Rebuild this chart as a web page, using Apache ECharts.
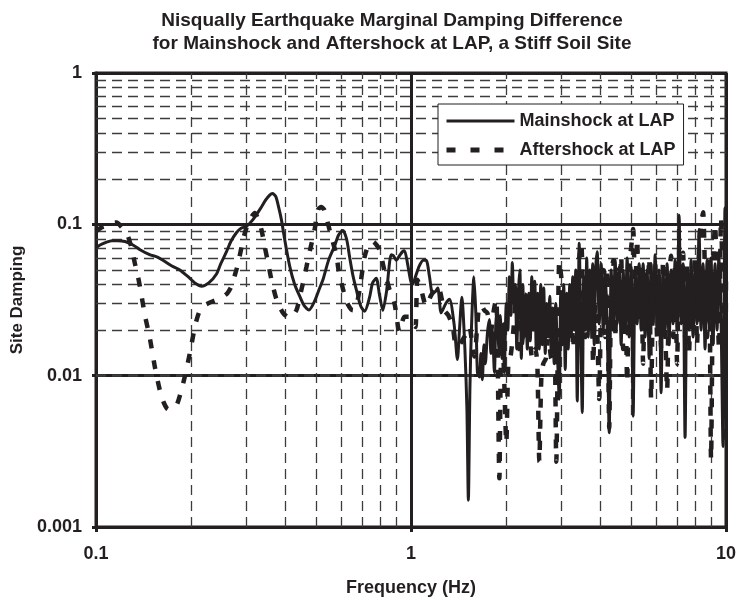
<!DOCTYPE html>
<html>
<head>
<meta charset="utf-8">
<script src="https://cdn.jsdelivr.net/npm/echarts@6/dist/echarts.min.js"></script>
<style>
  html, body { margin: 0; padding: 0; background: #ffffff; }
  #chart { width: 739px; height: 605px; }
</style>
</head>
<body>
<div id="chart"></div>
<script>
// Marginal site damping vs. frequency, Nisqually records at LAP
const titleLines = [
  'Nisqually Earthquake Marginal Damping Difference',
  'for Mainshock and Aftershock at LAP, a Stiff Soil Site'
];
const seriesNames = ['Mainshock at LAP', 'Aftershock at LAP'];
const xAxisTitle = 'Frequency (Hz)';
const yAxisTitle = 'Site Damping';

// Mainshock (Hz, damping)
const mainFreq = [
  0.1, 0.103, 0.1076, 0.1124, 0.117, 0.1236, 0.131, 0.138, 0.148, 0.156,
  0.165, 0.1742, 0.1846, 0.1986, 0.206, 0.2163, 0.228, 0.2413, 0.249, 0.2596,
  0.268, 0.279, 0.288, 0.3004, 0.3145, 0.331, 0.3458, 0.356, 0.363, 0.372,
  0.38, 0.3879, 0.397, 0.412, 0.4273, 0.4432, 0.458, 0.4743, 0.494, 0.513,
  0.5253, 0.5475, 0.5721, 0.589, 0.6078, 0.6245, 0.6383, 0.654, 0.6705, 0.6918,
  0.7124, 0.7388, 0.755, 0.7757, 0.7946, 0.8139, 0.8363, 0.8655, 0.88, 0.8975,
  0.9196, 0.9398, 0.9536, 0.975, 0.996, 1.011, 1.033, 1.062, 1.094, 1.117,
  1.145, 1.17, 1.196, 1.216, 1.247, 1.29, 1.325, 1.37, 1.404, 1.425,
  1.45, 1.483, 1.505, 1.521, 1.538, 1.555, 1.584, 1.607, 1.625,
  1.649, 1.667, 1.685, 1.704, 1.722, 1.748, 1.774, 1.793, 1.813, 1.84,
  1.859, 1.88, 1.9, 1.921, 1.942, 1.964, 1.978, 2.007, 2.03, 2.052,
  2.075, 2.098, 2.12, 2.144, 2.167, 2.192, 2.216, 2.24, 2.265, 2.289,
  2.315, 2.34, 2.366, 2.392, 2.418, 2.445, 2.472, 2.499, 2.526, 2.554,
  2.582, 2.611, 2.639, 2.668, 2.698, 2.728, 2.758, 2.788, 2.819, 2.85,
  2.881, 2.913, 2.956, 2.988, 3.021, 3.054, 3.088, 3.122, 3.156, 3.191,
  3.226, 3.262, 3.298, 3.334, 3.371, 3.421, 3.458, 3.497, 3.535, 3.574,
  3.613, 3.653, 3.693, 3.734, 3.775, 3.816, 3.858, 3.9, 3.958,
  4.016, 4.075, 4.135, 4.196, 4.258, 4.32, 4.384, 4.448,
  4.514, 4.58, 4.647, 4.716, 4.785, 4.855, 4.927, 4.999, 5.073, 5.147,
  5.223, 5.3, 5.378, 5.457, 5.537, 5.619, 5.702, 5.785, 5.87, 5.957,
  6.044, 6.133, 6.223, 6.315, 6.408, 6.502, 6.598, 6.695, 6.793, 6.893,
  6.995, 7.097, 7.202, 7.308, 7.415, 7.524, 7.635, 7.747, 7.861, 7.977,
  8.094, 8.213, 8.334, 8.457, 8.581, 8.707, 8.835, 8.965, 9.097, 9.231,
  9.367, 9.502, 9.642, 9.784, 9.928, 10
];
const mainDamping = [
  0.07, 0.073, 0.076, 0.078, 0.078, 0.077, 0.073, 0.068, 0.063, 0.061,
  0.057, 0.053, 0.05, 0.044, 0.041, 0.039, 0.041, 0.047, 0.055, 0.066,
  0.077, 0.088, 0.094, 0.097, 0.107, 0.125, 0.145, 0.156, 0.16, 0.153,
  0.13, 0.107, 0.08, 0.053, 0.04, 0.0335, 0.029, 0.0272, 0.031, 0.038,
  0.043, 0.058, 0.072, 0.085, 0.091, 0.08, 0.061, 0.046, 0.037, 0.029,
  0.0266, 0.033, 0.041, 0.044, 0.034, 0.027, 0.036, 0.063, 0.062, 0.058,
  0.062, 0.066, 0.067, 0.055, 0.043, 0.04, 0.045, 0.053, 0.058, 0.058,
  0.045, 0.035, 0.036, 0.038, 0.026, 0.03, 0.032, 0.022, 0.0128, 0.02,
  0.033, 0.015, 0.006, 0.0015, 0.008, 0.02, 0.045, 0.025, 0.0105,
  0.0098, 0.014, 0.0094, 0.016, 0.012, 0.019, 0.0235, 0.014, 0.02, 0.0105,
  0.022, 0.027, 0.015, 0.025, 0.013, 0.022, 0.0105, 0.03, 0.02, 0.045,
  0.025, 0.056, 0.03, 0.04, 0.015, 0.035, 0.05, 0.013, 0.04, 0.018,
  0.032, 0.015, 0.035, 0.017, 0.045, 0.02, 0.042, 0.014, 0.035, 0.015,
  0.04, 0.016, 0.038, 0.014, 0.03, 0.018, 0.0335, 0.014, 0.028, 0.012,
  0.03, 0.015, 0.007, 0.035, 0.016, 0.04, 0.011, 0.035, 0.015, 0.04,
  0.018, 0.045, 0.02, 0.05, 0.0068, 0.075, 0.02, 0.0057, 0.045, 0.02,
  0.06, 0.018, 0.05, 0.02, 0.055, 0.016, 0.05, 0.066, 0.022,
  0.055, 0.02, 0.05, 0.022, 0.0042, 0.05, 0.02, 0.058,
  0.022, 0.052, 0.016, 0.05, 0.02, 0.06, 0.018, 0.052, 0.0054, 0.05,
  0.022, 0.055, 0.02, 0.055, 0.018, 0.05, 0.013, 0.055, 0.022, 0.063,
  0.02, 0.05, 0.0077, 0.05, 0.02, 0.055, 0.016, 0.05, 0.022, 0.058,
  0.02, 0.115, 0.022, 0.055, 0.0039, 0.05, 0.02, 0.058, 0.018, 0.052,
  0.022, 0.092, 0.02, 0.055, 0.015, 0.058, 0.022, 0.06, 0.016, 0.055,
  0.02, 0.065, 0.025, 0.0034, 0.128, 0.04
];

// Aftershock (Hz, damping)
const afterFreq = [
  0.1, 0.1037, 0.1081, 0.1116, 0.1163, 0.12, 0.125, 0.1297, 0.1329, 0.136,
  0.1394, 0.143, 0.148, 0.1538, 0.1595, 0.1643, 0.1695, 0.1747, 0.1803, 0.186,
  0.1915, 0.1986, 0.206, 0.2121, 0.2187, 0.2265, 0.2349, 0.2436, 0.2532, 0.2611,
  0.2692, 0.2758, 0.2825, 0.293, 0.3004, 0.3077, 0.3192, 0.3263, 0.3352, 0.3434,
  0.3523, 0.3606, 0.374, 0.3925, 0.412, 0.4326, 0.4432, 0.454, 0.4654, 0.4768,
  0.4944, 0.5066, 0.5193, 0.53, 0.541, 0.5586, 0.5794, 0.589, 0.6155, 0.6337,
  0.654, 0.6705, 0.6867, 0.7124, 0.7334, 0.7568, 0.7774, 0.7946, 0.8241, 0.855,
  0.8866, 0.9196, 0.9536, 0.989, 1.011, 1.033, 1.048, 1.077, 1.117, 1.159,
  1.216, 1.277, 1.315, 1.357, 1.391, 1.425, 1.46, 1.499, 1.532, 1.566,
  1.59, 1.625, 1.649, 1.673, 1.71, 1.747, 1.796, 1.826, 1.862, 1.88,
  1.908, 1.936, 1.965, 2.007, 2.037, 2.067, 2.114, 2.155, 2.192, 2.224,
  2.256, 2.289, 2.323, 2.349, 2.375, 2.428, 2.481, 2.518, 2.555, 2.592,
  2.63, 2.682, 2.728, 2.788, 2.85, 2.892, 2.956, 2.999, 3.043, 3.088,
  3.133, 3.18, 3.226, 3.274, 3.322, 3.37, 3.421, 3.471, 3.522, 3.574,
  3.626, 3.68, 3.734, 3.788, 3.844, 3.9, 3.958, 4.016, 4.075, 4.135,
  4.196, 4.258, 4.32, 4.384, 4.448, 4.514, 4.58, 4.647, 4.716, 4.785,
  4.855, 4.927, 4.999, 5.073, 5.147, 5.223, 5.3, 5.378, 5.457, 5.537,
  5.619, 5.702, 5.785, 5.87, 5.957, 6.044, 6.133, 6.223, 6.315, 6.408,
  6.502, 6.598, 6.695, 6.793, 6.893, 6.995, 7.097, 7.202, 7.308, 7.415,
  7.524, 7.635, 7.747, 7.861, 7.977, 8.094, 8.213, 8.334, 8.457, 8.581,
  8.707, 8.835, 8.965, 9.097, 9.231, 9.367, 9.502, 9.642, 9.784, 9.928, 10
];
const afterDamping = [
  0.09, 0.095, 0.098, 0.102, 0.103, 0.097, 0.088, 0.07, 0.055, 0.045,
  0.034, 0.025, 0.018, 0.0114, 0.008, 0.0066, 0.006, 0.0061, 0.0064, 0.0078,
  0.0099, 0.0141, 0.021, 0.026, 0.0288, 0.03, 0.031, 0.032, 0.0334, 0.035,
  0.039, 0.046, 0.055, 0.079, 0.095, 0.107, 0.119, 0.11, 0.092, 0.071,
  0.055, 0.043, 0.032, 0.026, 0.024, 0.027, 0.033, 0.041, 0.052, 0.066,
  0.092, 0.125, 0.13, 0.125, 0.107, 0.083, 0.063, 0.05, 0.034, 0.029,
  0.027, 0.029, 0.037, 0.061, 0.073, 0.077, 0.073, 0.068, 0.049, 0.037,
  0.03, 0.0195, 0.0245, 0.0245, 0.022, 0.021, 0.043, 0.037, 0.029, 0.034,
  0.039, 0.027, 0.025, 0.021, 0.0156, 0.016, 0.0173, 0.019, 0.021, 0.016,
  0.0134, 0.022, 0.029, 0.029, 0.027, 0.026, 0.02, 0.026, 0.032, 0.02,
  0.0021, 0.015, 0.013, 0.0036, 0.012, 0.013, 0.02, 0.0335, 0.025, 0.014,
  0.017, 0.025, 0.034, 0.035, 0.02, 0.013, 0.015, 0.012, 0.0027, 0.0095,
  0.012, 0.013, 0.018, 0.013, 0.02, 0.0027, 0.057, 0.045, 0.028, 0.035,
  0.027, 0.02, 0.03, 0.015, 0.04, 0.025, 0.06, 0.075, 0.03, 0.018,
  0.04, 0.025, 0.035, 0.012, 0.03, 0.02, 0.007, 0.035, 0.05, 0.018,
  0.05, 0.0045, 0.04, 0.058, 0.018, 0.05, 0.022, 0.062, 0.015, 0.045,
  0.009, 0.055, 0.07, 0.093, 0.035, 0.08, 0.022, 0.055, 0.012, 0.05,
  0.025, 0.06, 0.007, 0.04, 0.055, 0.018, 0.05, 0.015, 0.058, 0.022,
  0.008, 0.045, 0.062, 0.018, 0.055, 0.012, 0.05, 0.025, 0.065, 0.018,
  0.055, 0.014, 0.05, 0.022, 0.062, 0.016, 0.07, 0.1, 0.12, 0.045,
  0.018, 0.06, 0.0028, 0.05, 0.1, 0.035, 0.015, 0.11, 0.03, 0.0035, 0.05
];

// Axis ticks and labels
const xTicks = [0.1, 1, 10];
const xTickLabels = ['0.1', '1', '10'];
const yTicks = [0.001, 0.01, 0.1, 1];
const yTickLabels = ['0.001', '0.01', '0.1', '1'];
// Minor (dashed) grid positions
const xMinor = [0.2, 0.3, 0.4, 0.5, 0.6, 0.7, 0.8, 0.9, 2, 3, 4, 5, 6, 7, 8, 9];
const yMinor = [0.002, 0.003, 0.004, 0.005, 0.006, 0.007, 0.008, 0.009,
                0.02, 0.03, 0.04, 0.05, 0.06, 0.07, 0.08, 0.09,
                0.2, 0.3, 0.4, 0.5, 0.6, 0.7, 0.8, 0.9];

const INK = '#231f20';
const FONT = '"Liberation Sans", Arial, Helvetica, sans-serif';
const FS = 18;

function tickLabel(ticks, labels) {
  return function (v) {
    const i = ticks.findIndex(t => Math.abs(Math.log10(t) - Math.log10(v)) < 1e-6);
    return i >= 0 ? labels[i] : '';
  };
}

const zip = (xs, ys) => xs.map((x, i) => [x, ys[i]]);

const mainLine = { color: INK, width: 3, type: 'solid' };
const afterLine = { color: INK, width: 4.5, type: [9, 12], cap: 'butt' };

const chart = echarts.init(document.getElementById('chart'), null, { renderer: 'canvas' });

chart.setOption({
  animation: false,
  backgroundColor: '#ffffff',
  graphic: [
    { type: 'text', x: 392, y: 21, style: { text: titleLines[0], textAlign: 'center', textVerticalAlign: 'middle', fill: INK, font: 'bold 19px ' + FONT } },
    { type: 'text', x: 392, y: 44, style: { text: titleLines[1], textAlign: 'center', textVerticalAlign: 'middle', fill: INK, font: 'bold 19px ' + FONT } }
  ],
  grid: {
    left: 96, right: 12, top: 73, bottom: 78,
    show: true, borderColor: INK, borderWidth: 3, backgroundColor: 'transparent'
  },
  legend: {
    left: 438, top: 104,
    orient: 'vertical',
    backgroundColor: '#ffffff',
    borderColor: INK, borderWidth: 1, borderRadius: 0,
    padding: [8, 8, 6, 6],
    itemWidth: 68, itemHeight: 14, itemGap: 11, itemTextGap: 4,
    itemStyle: { opacity: 0 },
    textStyle: { fontFamily: FONT, fontWeight: 'bold', fontSize: FS, color: INK },
    data: [
      { name: seriesNames[0], lineStyle: { color: INK, width: 3, type: 'solid' } },
      { name: seriesNames[1], lineStyle: { color: INK, width: 5, type: [9, 15], cap: 'butt' } }
    ]
  },
  xAxis: {
    type: 'log', logBase: 10, min: 0.1, max: 10,
    name: xAxisTitle, nameLocation: 'middle', nameGap: 52,
    nameTextStyle: { fontFamily: FONT, fontWeight: 'bold', fontSize: FS, color: INK },
    axisLine: { show: true, lineStyle: { color: INK, width: 3 } },
    axisTick: { show: true, length: 5, lineStyle: { color: INK, width: 3 } },
    axisLabel: { margin: 18, fontFamily: FONT, fontWeight: 'bold', fontSize: FS, color: INK,
                 formatter: tickLabel(xTicks, xTickLabels) },
    splitLine: { show: true, lineStyle: { color: INK, width: 3, type: 'solid' } },
    minorTick: { show: false }, minorSplitLine: { show: false }
  },
  yAxis: {
    type: 'log', logBase: 10, min: 0.001, max: 1,
    name: yAxisTitle, nameLocation: 'middle', nameGap: 68, nameRotate: 90,
    nameTextStyle: { fontFamily: FONT, fontWeight: 'bold', fontSize: 17, color: INK },
    axisLine: { show: true, lineStyle: { color: INK, width: 3 } },
    axisTick: { show: true, length: 4, lineStyle: { color: INK, width: 3 } },
    axisLabel: { margin: 14, fontFamily: FONT, fontWeight: 'bold', fontSize: FS, color: INK,
                 formatter: tickLabel(yTicks, yTickLabels) },
    splitLine: { show: true, lineStyle: { color: INK, width: 3, type: 'solid' } },
    minorTick: { show: false }, minorSplitLine: { show: false }
  },
  series: [
    {
      name: 'minor grid',
      type: 'line',
      data: [],
      z: 1,
      silent: true,
      markLine: {
        z: 1,
        silent: true,
        symbol: ['none', 'none'],
        label: { show: false },
        emphasis: { disabled: true },
        animation: false,
        lineStyle: { color: '#3c3c3c', width: 1.3, type: [10, 6] },
        data: xMinor.map(v => ({ xAxis: v })).concat(yMinor.map(v => ({ yAxis: v })))
      }
    },
    {
      name: seriesNames[0],
      type: 'line',
      data: zip(mainFreq, mainDamping),
      showSymbol: false, symbol: 'none',
      smooth: 0.25,
      z: 3,
      lineStyle: mainLine,
      itemStyle: { color: INK }
    },
    {
      name: seriesNames[1],
      type: 'line',
      data: zip(afterFreq, afterDamping),
      showSymbol: false, symbol: 'none',
      smooth: 0.25,
      z: 4,
      lineStyle: afterLine,
      itemStyle: { color: INK }
    }
  ]
});
</script>
</body>
</html>
